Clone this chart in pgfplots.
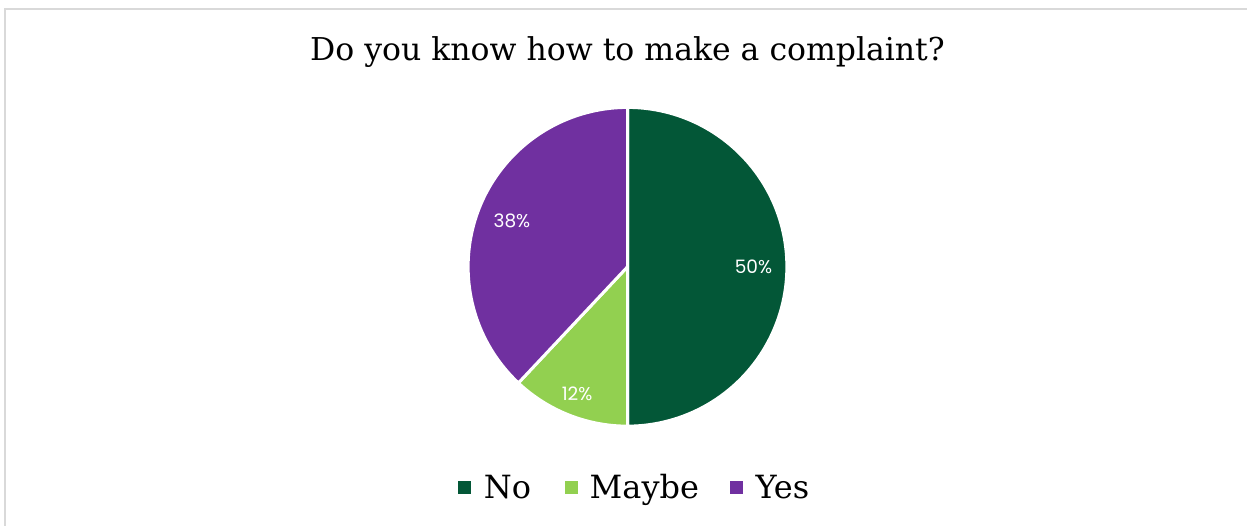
\documentclass[border=0pt]{standalone}
\usepackage{pgfplots}
\pgfplotsset{compat=1.18}
\usepackage{pgfplotstable}
\usetikzlibrary{calc}
\usepackage{fontspec}
\setmainfont{DejaVu Serif}
\newfontfamily\labfont{Poppins}
\definecolor{cNo}{RGB}{3,87,55}
\definecolor{cMaybe}{RGB}{146,208,80}
\definecolor{cYes}{RGB}{112,48,160}
\definecolor{frame}{RGB}{217,217,217}

\pgfplotstableread{
label value rfac
No 50 0.79
Maybe 12 0.86
Yes 38 0.78
}\piedata

% cumulative angles, clockwise from 90 degrees
\pgfplotstablegetelem{0}{value}\of\piedata \edef\vA{\pgfplotsretval}
\pgfplotstablegetelem{1}{value}\of\piedata \edef\vB{\pgfplotsretval}
\pgfplotstablegetelem{2}{value}\of\piedata \edef\vC{\pgfplotsretval}
\pgfplotstablegetelem{0}{rfac}\of\piedata \edef\rA{\pgfplotsretval}
\pgfplotstablegetelem{1}{rfac}\of\piedata \edef\rB{\pgfplotsretval}
\pgfplotstablegetelem{2}{rfac}\of\piedata \edef\rC{\pgfplotsretval}
\pgfmathsetmacro\aZ{90}
\pgfmathsetmacro\aA{\aZ-3.6*\vA}
\pgfmathsetmacro\aB{\aA-3.6*\vB}
\pgfmathsetmacro\aC{\aB-3.6*\vC}
\pgfmathsetmacro\mA{(\aZ+\aA)/2}
\pgfmathsetmacro\mB{(\aA+\aB)/2}
\pgfmathsetmacro\mC{(\aB+\aC)/2}
\def\R{159.5}

\begin{document}
\begin{tikzpicture}
\begin{axis}[
  scale only axis, width=1248pt, height=526pt,
  xmin=0, xmax=1248, ymin=0, ymax=526,
  hide axis, clip=false,
]
% frame
\draw[frame, line width=2pt] (axis cs:5,0) -- (axis cs:5,517) -- (axis cs:1248,517);
% title
\node[font=\fontsize{31.5}{36}\selectfont] at (axis cs:628,474) {Do you know how to make a complaint?};
% sectors
\def\cx{628}\def\cy{259}
\fill[cNo, draw=white, line width=3pt, line join=round] (axis cs:\cx,\cy) -- ++(\aZ:\R pt) arc[start angle=\aZ, end angle=\aA, radius=\R pt] -- cycle;
\fill[cMaybe, draw=white, line width=3pt, line join=round] (axis cs:\cx,\cy) -- ++(\aA:\R pt) arc[start angle=\aA, end angle=\aB, radius=\R pt] -- cycle;
\fill[cYes, draw=white, line width=3pt, line join=round] (axis cs:\cx,\cy) -- ++(\aB:\R pt) arc[start angle=\aB, end angle=\aC, radius=\R pt] -- cycle;
% labels
\node[white, font=\labfont\fontsize{18.5}{20}\selectfont] at ($(axis cs:\cx,\cy)+(\mA:\rA*\R pt)$) {\vA\%};
\node[white, font=\labfont\fontsize{18.5}{20}\selectfont] at ($(axis cs:\cx,\cy)+(\mB:\rB*\R pt)$) {\vB\%};
\node[white, font=\labfont\fontsize{18.5}{20}\selectfont] at ($(axis cs:\cx,\cy)+(\mC:\rC*\R pt)$) {\vC\%};
% legend
\fill[cNo] (axis cs:458,32) rectangle (axis cs:471,45);
\node[anchor=base west, inner sep=0pt, font=\fontsize{32}{36}\selectfont] at (axis cs:484,27) {No};
\fill[cMaybe] (axis cs:565,32) rectangle (axis cs:578,45);
\node[anchor=base west, inner sep=0pt, font=\fontsize{32}{36}\selectfont] at (axis cs:590,27) {Maybe};
\fill[cYes] (axis cs:731,32) rectangle (axis cs:744,45);
\node[anchor=base west, inner sep=0pt, font=\fontsize{32}{36}\selectfont] at (axis cs:756,27) {Yes};
\end{axis}
\useasboundingbox (0,0) rectangle (1248pt,526pt);
\end{tikzpicture}
\end{document}
